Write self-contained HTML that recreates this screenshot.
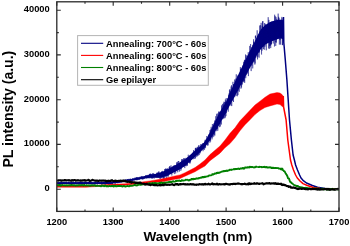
<!DOCTYPE html>
<html><head><meta charset="utf-8"><style>
html,body{margin:0;padding:0;background:#fff;width:350px;height:246px;overflow:hidden}
svg{display:block}
svg{will-change:transform}
</style></head><body>
<svg width="350" height="246" viewBox="0 0 350 246">
<rect width="350" height="246" fill="#fff"/>
<defs><clipPath id="c"><rect x="56.8" y="1.8" width="282.2" height="209.6"/></clipPath></defs>
<g clip-path="url(#c)">
<polygon points="57.0,182.2 100.0,182.2 110.0,181.8 120.0,180.6 128.0,179.5 135.0,178.3 140.0,177.3 150.0,174.8 155.0,174.0 160.0,172.4 165.0,170.8 170.0,167.9 175.0,165.4 180.0,162.3 185.0,159.6 190.0,155.1 195.0,150.5 200.0,146.4 205.0,141.5 209.5,132.9 210.8,130.4 215.7,119.8 217.1,117.3 221.0,109.9 225.4,102.9 226.1,101.8 232.4,87.2 234.0,83.8 239.3,72.5 242.2,66.6 246.5,57.8 250.0,50.8 250.3,50.2 254.1,42.9 257.0,36.6 258.2,34.3 260.0,31.1 261.0,29.3 262.0,28.2 265.0,25.2 270.0,21.9 275.0,20.5 278.0,19.8 280.0,19.7 281.0,19.7 283.2,20.2 283.2,39.2 281.0,38.6 280.0,38.4 278.0,39.0 275.0,40.0 270.0,41.9 265.0,44.8 262.0,47.8 261.0,49.0 260.0,50.3 258.2,52.9 257.0,55.0 254.1,60.4 250.3,67.2 250.0,67.7 246.5,74.3 242.2,82.4 239.3,87.8 234.0,97.7 232.4,100.6 226.1,112.5 225.4,113.7 221.0,121.5 217.1,128.6 215.7,130.8 210.8,138.7 209.5,140.7 205.0,147.3 200.0,152.3 195.0,156.8 190.0,161.5 185.0,165.9 180.0,169.2 175.0,171.7 170.0,174.4 165.0,176.6 160.0,177.4 155.0,177.7 150.0,177.7 140.0,179.2 135.0,180.3 128.0,181.1 120.0,182.4 110.0,184.0 100.0,184.0 57.0,184.1" fill="#000080"/>
<polyline points="57.00,183.4 57.12,183.9 57.24,183.4 57.36,182.0 57.48,183.9 57.60,183.5 57.72,182.7 57.84,183.7 57.96,183.5 58.08,183.4 58.20,183.2 58.32,183.6 58.44,182.5 58.56,183.0 58.68,182.7 58.80,183.7 58.92,183.2 59.04,182.9 59.16,182.5 59.28,182.9 59.40,183.2 59.52,182.9 59.64,184.3 59.76,184.0 59.88,181.6 60.00,181.6 60.12,183.0 60.24,182.8 60.36,183.3 60.48,183.3 60.60,184.7 60.72,182.2 60.84,182.8 60.96,184.7 61.08,183.7 61.20,183.7 61.32,182.7 61.44,181.7 61.56,183.3 61.68,183.2 61.80,182.1 61.92,182.6 62.04,183.1 62.16,182.3 62.28,183.1 62.40,183.2 62.52,183.2 62.64,182.7 62.76,183.7 62.88,183.9 63.00,183.4 63.12,182.4 63.24,183.8 63.36,182.7 63.48,183.9 63.60,182.2 63.72,183.9 63.84,183.1 63.96,182.1 64.08,182.9 64.20,183.2 64.32,183.4 64.44,182.3 64.56,182.2 64.68,183.3 64.80,182.7 64.92,183.3 65.04,183.8 65.16,181.7 65.28,183.4 65.40,184.2 65.52,182.9 65.64,182.4 65.76,183.8 65.88,183.4 66.00,183.9 66.12,182.8 66.24,181.9 66.36,183.0 66.48,182.8 66.60,183.8 66.72,183.3 66.84,181.7 66.96,182.1 67.08,183.9 67.20,183.7 67.32,182.6 67.44,183.1 67.56,183.5 67.68,183.5 67.80,183.9 67.92,183.4 68.04,183.1 68.16,182.9 68.28,184.0 68.40,181.6 68.52,183.0 68.64,183.2 68.76,181.9 68.88,183.4 69.00,182.6 69.12,183.9 69.24,183.0 69.36,183.7 69.48,184.2 69.60,183.5 69.72,182.4 69.84,181.8 69.96,184.6 70.08,183.0 70.20,182.5 70.32,183.3 70.44,183.0 70.56,183.9 70.68,183.2 70.80,183.1 70.92,182.5 71.04,183.5 71.16,182.2 71.28,183.7 71.40,184.4 71.52,181.8 71.64,181.6 71.76,183.7 71.88,184.7 72.00,182.3 72.12,182.1 72.24,183.6 72.36,182.4 72.48,182.7 72.60,182.8 72.72,183.6 72.84,182.8 72.96,183.4 73.08,183.0 73.20,182.4 73.32,182.9 73.44,182.3 73.56,183.1 73.68,182.2 73.80,182.2 73.92,184.4 74.04,183.1 74.16,183.1 74.28,183.6 74.40,182.8 74.52,182.9 74.64,183.5 74.76,183.4 74.88,182.1 75.00,183.8 75.12,182.6 75.24,182.2 75.36,182.4 75.48,182.8 75.60,184.5 75.72,182.1 75.84,183.3 75.96,181.6 76.08,183.1 76.20,183.9 76.32,182.9 76.44,182.6 76.56,183.3 76.68,183.7 76.80,183.7 76.92,184.6 77.04,183.3 77.16,182.6 77.28,183.0 77.40,183.1 77.52,183.2 77.64,183.1 77.76,183.3 77.88,181.7 78.00,183.8 78.12,182.6 78.24,182.1 78.36,183.7 78.48,184.3 78.60,183.6 78.72,183.3 78.84,182.3 78.96,184.6 79.08,183.9 79.20,182.2 79.32,182.5 79.44,183.2 79.56,181.8 79.68,183.3 79.80,182.7 79.92,184.2 80.04,183.9 80.16,181.6 80.28,183.2 80.40,181.7 80.52,184.1 80.64,183.3 80.76,183.6 80.88,182.2 81.00,184.6 81.12,184.6 81.24,182.2 81.36,183.4 81.48,182.6 81.60,183.1 81.72,182.0 81.84,184.6 81.96,182.3 82.08,182.9 82.20,183.6 82.32,182.6 82.44,182.9 82.56,182.6 82.68,183.0 82.80,182.1 82.92,182.8 83.04,182.9 83.16,182.8 83.28,183.2 83.40,182.9 83.52,183.8 83.64,182.8 83.76,183.0 83.88,182.6 84.00,182.7 84.12,182.0 84.24,183.6 84.36,182.2 84.48,182.5 84.60,183.4 84.72,183.5 84.84,182.8 84.96,181.6 85.08,183.5 85.20,183.3 85.32,181.9 85.44,183.8 85.56,182.5 85.68,182.2 85.80,183.2 85.92,183.0 86.04,183.3 86.16,181.8 86.28,184.6 86.40,182.6 86.52,181.8 86.64,183.6 86.76,182.8 86.88,183.4 87.00,182.8 87.12,183.1 87.24,183.3 87.36,182.5 87.48,183.7 87.60,182.7 87.72,182.4 87.84,183.2 87.96,183.5 88.08,182.9 88.20,182.4 88.32,183.6 88.44,181.6 88.56,182.2 88.68,183.2 88.80,182.0 88.92,183.1 89.04,183.1 89.16,183.9 89.28,182.3 89.40,182.6 89.52,183.4 89.64,181.6 89.76,184.6 89.88,182.5 90.00,182.5 90.12,183.8 90.24,183.1 90.36,181.6 90.48,183.6 90.60,183.8 90.72,182.7 90.84,182.9 90.96,183.5 91.08,182.3 91.20,183.5 91.32,183.3 91.44,182.5 91.56,181.9 91.68,182.9 91.80,182.4 91.92,184.0 92.04,183.2 92.16,183.8 92.28,183.2 92.40,183.3 92.52,182.5 92.64,183.7 92.76,184.6 92.88,182.9 93.00,182.6 93.12,183.0 93.24,182.7 93.36,182.5 93.48,183.2 93.60,182.9 93.72,184.3 93.84,183.1 93.96,183.4 94.08,183.9 94.20,182.9 94.32,184.3 94.44,182.6 94.56,182.4 94.68,182.8 94.80,183.0 94.92,181.9 95.04,183.1 95.16,181.7 95.28,184.3 95.40,183.0 95.52,182.6 95.64,182.3 95.76,182.8 95.88,182.9 96.00,182.2 96.12,182.3 96.24,183.0 96.36,182.7 96.48,183.9 96.60,184.1 96.72,183.1 96.84,183.5 96.96,182.0 97.08,183.6 97.20,183.1 97.32,183.5 97.44,184.5 97.56,181.6 97.68,183.3 97.80,182.2 97.92,183.6 98.04,182.0 98.16,182.7 98.28,183.3 98.40,183.6 98.52,183.2 98.64,182.4 98.76,182.6 98.88,183.9 99.00,183.1 99.12,181.7 99.24,183.8 99.36,183.5 99.48,183.8 99.60,182.8 99.72,183.8 99.84,182.2 99.96,183.6 100.08,182.7 100.20,183.7 100.32,184.0 100.44,182.5 100.56,183.1 100.68,183.1 100.80,184.1 100.92,183.7 101.04,182.0 101.16,183.5 101.28,183.7 101.40,184.6 101.52,181.6 101.64,182.6 101.76,184.2 101.88,181.9 102.00,182.0 102.12,183.5 102.24,183.9 102.36,182.5 102.48,183.5 102.60,183.2 102.72,184.4 102.84,183.0 102.96,183.9 103.08,182.2 103.20,182.9 103.32,183.0 103.44,184.0 103.56,183.5 103.68,182.4 103.80,183.6 103.92,183.7 104.04,182.9 104.16,182.8 104.28,182.8 104.40,181.5 104.52,183.2 104.64,183.2 104.76,182.2 104.88,183.7 105.00,181.8 105.12,182.5 105.24,182.6 105.36,184.6 105.48,181.5 105.60,183.5 105.72,183.9 105.84,183.3 105.96,184.1 106.08,182.1 106.20,181.3 106.32,183.7 106.44,181.9 106.56,182.7 106.68,181.9 106.80,183.9 106.92,183.8 107.04,182.3 107.16,183.8 107.28,183.1 107.40,182.8 107.52,183.0 107.64,182.8 107.76,183.5 107.88,183.2 108.00,182.6 108.12,183.9 108.24,182.4 108.36,183.2 108.48,183.3 108.60,184.3 108.72,182.4 108.84,184.6 108.96,183.1 109.08,182.7 109.20,182.3 109.32,183.5 109.44,183.0 109.56,181.8 109.68,181.8 109.80,182.4 109.92,182.2 110.04,184.0 110.16,184.2 110.28,183.7 110.40,183.2 110.52,182.4 110.64,182.9 110.76,183.6 110.88,184.5 111.00,183.6 111.12,182.5 111.24,182.8 111.36,182.2 111.48,181.9 111.60,182.5 111.72,182.8 111.84,184.3 111.96,182.7 112.08,183.9 112.20,184.3 112.32,182.6 112.44,184.1 112.56,183.2 112.68,182.1 112.80,182.8 112.92,182.5 113.04,182.3 113.16,182.3 113.28,182.6 113.40,182.8 113.52,181.6 113.64,182.4 113.76,181.0 113.88,182.6 114.00,182.9 114.12,182.5 114.24,182.6 114.36,182.8 114.48,181.7 114.60,182.0 114.72,182.7 114.84,183.1 114.96,182.6 115.08,183.8 115.20,182.1 115.32,183.0 115.44,183.3 115.56,182.0 115.68,181.4 115.80,181.0 115.92,182.2 116.04,183.0 116.16,182.3 116.28,182.2 116.40,181.7 116.52,182.5 116.64,180.4 116.76,182.2 116.88,182.0 117.00,180.7 117.12,183.4 117.24,180.7 117.36,180.9 117.48,180.8 117.60,182.8 117.72,181.0 117.84,182.4 117.96,182.3 118.08,182.0 118.20,180.6 118.32,181.2 118.44,183.1 118.56,180.6 118.68,181.0 118.80,181.5 118.92,182.3 119.04,181.8 119.16,182.2 119.28,180.7 119.40,182.4 119.52,182.0 119.64,180.2 119.76,182.8 119.88,183.0 120.00,180.9 120.12,181.5 120.24,182.6 120.36,180.2 120.48,180.0 120.60,180.3 120.72,180.9 120.84,180.9 120.96,181.9 121.08,181.6 121.20,180.3 121.32,181.8 121.44,182.7 121.56,182.2 121.68,182.1 121.80,181.2 121.92,182.0 122.04,180.4 122.16,181.8 122.28,181.1 122.40,182.1 122.52,181.5 122.64,180.2 122.76,181.2 122.88,182.0 123.00,180.1 123.12,180.6 123.24,180.4 123.36,179.8 123.48,181.7 123.60,182.0 123.72,181.6 123.84,181.1 123.96,180.9 124.08,181.1 124.20,180.3 124.32,181.6 124.44,181.7 124.56,181.6 124.68,180.4 124.80,180.8 124.92,180.6 125.04,182.1 125.16,180.9 125.28,179.3 125.40,181.0 125.52,182.1 125.64,181.2 125.76,181.3 125.88,180.6 126.00,179.2 126.12,179.2 126.24,179.6 126.36,180.4 126.48,180.8 126.60,181.0 126.72,180.2 126.84,181.2 126.96,180.2 127.08,179.9 127.20,181.1 127.32,179.7 127.44,179.0 127.56,179.6 127.68,180.4 127.80,179.0 127.92,180.0 128.04,180.0 128.16,179.2 128.28,179.1 128.40,179.9 128.52,179.8 128.64,181.2 128.76,180.5 128.88,178.9 129.00,179.5 129.12,180.7 129.24,181.5 129.36,180.4 129.48,180.3 129.60,181.5 129.72,180.0 129.84,179.8 129.96,178.9 130.08,179.6 130.20,181.4 130.32,178.8 130.44,179.9 130.56,178.8 130.68,180.0 130.80,180.6 130.92,179.7 131.04,180.5 131.16,180.4 131.28,180.2 131.40,181.2 131.52,180.4 131.64,179.5 131.76,179.2 131.88,179.0 132.00,180.1 132.12,179.4 132.24,181.2 132.36,181.2 132.48,179.4 132.60,179.3 132.72,181.1 132.84,178.0 132.96,179.2 133.08,180.4 133.20,178.7 133.32,179.1 133.44,179.2 133.56,180.1 133.68,179.6 133.80,179.8 133.92,180.0 134.04,179.4 134.16,180.4 134.28,178.7 134.40,178.0 134.52,177.7 134.64,177.8 134.76,178.8 134.88,180.2 135.00,179.4 135.12,178.7 135.24,178.2 135.36,178.7 135.48,178.8 135.60,178.6 135.72,177.8 135.84,178.7 135.96,180.0 136.08,177.4 136.20,178.8 136.32,177.4 136.44,179.1 136.56,178.3 136.68,177.3 136.80,179.0 136.92,180.5 137.04,178.9 137.16,179.9 137.28,178.7 137.40,177.2 137.52,179.2 137.64,178.4 137.76,177.4 137.88,179.4 138.00,178.9 138.12,178.2 138.24,179.4 138.36,177.8 138.48,179.1 138.60,177.7 138.72,179.0 138.84,177.5 138.96,179.8 139.08,178.7 139.20,179.7 139.32,177.7 139.44,177.9 139.56,179.1 139.68,176.8 139.80,177.4 139.92,179.2 140.04,178.6 140.16,179.1 140.28,177.9 140.40,178.7 140.52,177.5 140.64,176.9 140.76,176.6 140.88,177.6 141.00,177.5 141.12,177.4 141.24,176.4 141.36,176.3 141.48,177.5 141.60,178.2 141.72,177.4 141.84,177.0 141.96,176.1 142.08,179.6 142.20,176.7 142.32,179.4 142.44,179.3 142.56,178.0 142.68,177.1 142.80,177.8 142.92,176.5 143.04,177.9 143.16,177.6 143.28,178.1 143.40,178.6 143.52,179.3 143.64,177.1 143.76,178.6 143.88,176.6 144.00,176.5 144.12,176.8 144.24,176.3 144.36,178.4 144.48,178.4 144.60,178.7 144.72,177.3 144.84,177.6 144.96,176.6 145.08,176.0 145.20,177.7 145.32,177.5 145.44,175.9 145.56,177.8 145.68,175.1 145.80,176.9 145.92,176.3 146.04,176.4 146.16,175.8 146.28,178.1 146.40,177.6 146.52,178.3 146.64,177.1 146.76,175.3 146.88,176.4 147.00,175.4 147.12,177.4 147.24,178.3 147.36,177.2 147.48,176.0 147.60,176.3 147.72,176.9 147.84,174.9 147.96,176.8 148.08,176.9 148.20,175.9 148.32,176.0 148.44,176.8 148.56,175.5 148.68,175.4 148.80,177.5 148.92,176.7 149.04,178.6 149.16,175.1 149.28,174.1 149.40,177.6 149.52,177.6 149.64,175.3 149.76,174.3 149.88,176.2 150.00,173.8 150.12,175.7 150.24,173.8 150.36,175.9 150.48,173.8 150.60,175.8 150.72,178.3 150.84,175.8 150.96,177.2 151.08,175.2 151.20,174.8 151.32,173.9 151.44,177.6 151.56,176.0 151.68,178.4 151.80,174.3 151.92,175.7 152.04,176.1 152.16,178.1 152.28,178.8 152.40,175.0 152.52,174.2 152.64,173.3 152.76,178.0 152.88,175.8 153.00,174.9 153.12,175.8 153.24,173.2 153.36,173.2 153.48,177.4 153.60,176.5 153.72,176.1 153.84,174.2 153.96,176.8 154.08,178.7 154.20,173.8 154.32,175.8 154.44,175.1 154.56,176.4 154.68,175.8 154.80,175.5 154.92,174.3 155.04,175.7 155.16,174.7 155.28,175.4 155.40,175.6 155.52,176.8 155.64,174.6 155.76,175.0 155.88,177.5 156.00,175.2 156.12,175.1 156.24,177.1 156.36,176.0 156.48,175.6 156.60,175.9 156.72,173.1 156.84,176.3 156.96,177.9 157.08,176.5 157.20,172.3 157.32,175.9 157.44,173.5 157.56,174.8 157.68,175.5 157.80,172.8 157.92,177.9 158.04,175.0 158.16,176.8 158.28,176.5 158.40,177.9 158.52,177.6 158.64,171.9 158.76,175.1 158.88,171.3 159.00,174.0 159.12,176.6 159.24,177.0 159.36,177.8 159.48,174.1 159.60,175.6 159.72,175.1 159.84,177.7 159.96,178.5 160.08,174.0 160.20,178.9 160.32,174.7 160.44,173.9 160.56,176.1 160.68,176.4 160.80,175.9 160.92,173.1 161.04,178.1 161.16,174.7 161.28,178.2 161.40,177.9 161.52,171.4 161.64,172.1 161.76,172.0 161.88,175.0 162.00,174.5 162.12,175.0 162.24,172.3 162.36,175.3 162.48,177.8 162.60,170.9 162.72,173.7 162.84,174.8 162.96,173.8 163.08,173.6 163.20,178.6 163.32,177.4 163.44,176.2 163.56,172.0 163.68,178.6 163.80,174.9 163.92,172.4 164.04,173.0 164.16,172.6 164.28,178.6 164.40,174.4 164.52,173.9 164.64,169.0 164.76,175.7 164.88,170.8 165.00,170.6 165.12,175.3 165.24,171.2 165.36,175.8 165.48,176.5 165.60,168.5 165.72,172.9 165.84,168.9 165.96,173.0 166.08,175.6 166.20,169.3 166.32,178.0 166.44,172.1 166.56,169.5 166.68,172.5 166.80,175.0 166.92,168.8 167.04,172.6 167.16,168.6 167.28,175.9 167.40,172.9 167.52,171.1 167.64,175.3 167.76,168.5 167.88,171.0 168.00,177.3 168.12,171.7 168.24,175.9 168.36,172.5 168.48,169.8 168.60,171.1 168.72,172.0 168.84,170.5 168.96,169.2 169.08,169.2 169.20,167.1 169.32,171.8 169.44,172.5 169.56,173.6 169.68,166.0 169.80,173.6 169.92,171.1 170.04,166.7 170.16,171.3 170.28,173.4 170.40,172.5 170.52,173.0 170.64,173.6 170.76,173.4 170.88,170.5 171.00,165.3 171.12,168.2 171.24,171.5 171.36,169.0 171.48,172.4 171.60,172.6 171.72,170.3 171.84,175.5 171.96,167.2 172.08,172.8 172.20,168.5 172.32,167.6 172.44,171.6 172.56,167.9 172.68,172.3 172.80,166.2 172.92,169.7 173.04,167.0 173.16,168.7 173.28,168.3 173.40,166.0 173.52,171.2 173.64,165.5 173.76,166.2 173.88,171.7 174.00,171.9 174.12,170.9 174.24,169.9 174.36,174.1 174.48,165.2 174.60,166.5 174.72,165.7 174.84,171.2 174.96,169.4 175.08,171.7 175.20,171.3 175.32,167.7 175.44,165.8 175.56,165.2 175.68,173.5 175.80,170.9 175.92,169.8 176.04,166.9 176.16,167.3 176.28,166.8 176.40,166.7 176.52,162.4 176.64,167.4 176.76,166.4 176.88,168.3 177.00,168.0 177.12,169.9 177.24,167.2 177.36,169.6 177.48,161.7 177.60,163.7 177.72,172.3 177.84,163.2 177.96,166.0 178.08,169.0 178.20,164.0 178.32,168.9 178.44,162.2 178.56,161.1 178.68,162.3 178.80,161.2 178.92,166.3 179.04,165.3 179.16,167.2 179.28,162.9 179.40,171.6 179.52,165.7 179.64,165.8 179.76,167.3 179.88,165.0 180.00,163.7 180.12,165.9 180.24,168.5 180.36,167.6 180.48,168.4 180.60,163.6 180.72,162.9 180.84,170.8 180.96,164.4 181.08,166.6 181.20,167.3 181.32,169.3 181.44,160.7 181.56,163.3 181.68,163.4 181.80,163.7 181.92,159.1 182.04,164.2 182.16,159.0 182.28,165.3 182.40,165.9 182.52,166.0 182.64,160.5 182.76,167.0 182.88,161.4 183.00,160.2 183.12,160.9 183.24,161.2 183.36,164.2 183.48,166.1 183.60,158.3 183.72,161.9 183.84,166.1 183.96,164.0 184.08,164.8 184.20,158.7 184.32,166.0 184.44,158.4 184.56,163.6 184.68,167.0 184.80,168.1 184.92,164.3 185.04,165.3 185.16,160.8 185.28,161.1 185.40,165.8 185.52,162.3 185.64,161.8 185.76,157.9 185.88,162.4 186.00,163.8 186.12,159.4 186.24,160.1 186.36,166.2 186.48,162.0 186.60,160.5 186.72,157.9 186.84,159.3 186.96,160.3 187.08,165.0 187.20,159.0 187.32,165.9 187.44,157.8 187.56,159.4 187.68,162.9 187.80,159.5 187.92,157.7 188.04,159.7 188.16,161.3 188.28,154.7 188.40,159.0 188.52,159.3 188.64,158.3 188.76,161.6 188.88,157.6 189.00,158.1 189.12,159.2 189.24,161.1 189.36,158.2 189.48,163.3 189.60,155.9 189.72,162.4 189.84,155.9 189.96,157.8 190.08,159.3 190.20,163.4 190.32,160.7 190.44,156.7 190.56,161.6 190.68,157.0 190.80,155.2 190.92,158.8 191.04,157.6 191.16,160.0 191.28,155.5 191.40,158.1 191.52,158.8 191.64,157.6 191.76,156.6 191.88,154.5 192.00,159.1 192.12,156.7 192.24,157.7 192.36,155.0 192.48,156.0 192.60,152.8 192.72,156.0 192.84,157.9 192.96,155.8 193.08,157.9 193.20,156.2 193.32,159.2 193.44,154.5 193.56,150.1 193.68,156.1 193.80,154.2 193.92,151.8 194.04,156.4 194.16,155.2 194.28,155.6 194.40,153.2 194.52,154.6 194.64,154.7 194.76,159.0 194.88,151.7 195.00,153.6 195.12,154.6 195.24,148.4 195.36,148.6 195.48,158.3 195.60,148.0 195.72,154.7 195.84,150.4 195.96,150.6 196.08,147.6 196.20,150.0 196.32,154.7 196.44,148.4 196.56,154.0 196.68,153.1 196.80,157.1 196.92,150.6 197.04,155.5 197.16,154.3 197.28,150.8 197.40,146.8 197.52,155.7 197.64,147.5 197.76,149.9 197.88,153.6 198.00,154.2 198.12,148.6 198.24,150.8 198.36,150.0 198.48,153.9 198.60,155.5 198.72,145.5 198.84,152.9 198.96,145.3 199.08,150.2 199.20,147.0 199.32,154.8 199.44,150.3 199.56,147.7 199.68,148.2 199.80,147.9 199.92,149.9 200.04,148.9 200.16,151.0 200.28,153.3 200.40,150.9 200.52,145.5 200.64,144.3 200.76,146.5 200.88,151.4 201.00,147.4 201.12,146.4 201.24,148.5 201.36,144.1 201.48,144.8 201.60,149.2 201.72,146.8 201.84,146.3 201.96,148.3 202.08,145.7 202.20,145.3 202.32,145.8 202.44,148.6 202.56,147.0 202.68,143.4 202.80,145.8 202.92,148.2 203.04,151.2 203.16,143.1 203.28,147.0 203.40,145.3 203.52,148.1 203.64,147.0 203.76,149.6 203.88,146.9 204.00,143.9 204.12,143.8 204.24,146.3 204.36,146.1 204.48,149.7 204.60,149.3 204.72,141.5 204.84,145.5 204.96,140.8 205.08,139.8 205.20,146.1 205.32,145.4 205.44,140.8 205.56,148.1 205.68,140.5 205.80,139.7 205.92,144.7 206.04,143.3 206.16,142.0 206.28,142.0 206.40,142.7 206.52,141.4 206.64,141.1 206.76,136.0 206.88,137.1 207.00,142.9 207.12,138.6 207.24,142.3 207.36,144.3 207.48,139.1 207.60,140.9 207.72,145.6 207.84,141.9 207.96,145.3 208.08,144.3 208.20,141.5 208.32,138.4 208.44,135.7 208.56,134.6 208.68,139.9 208.80,139.6 208.92,137.2 209.04,140.6 209.16,135.2 209.28,141.1 209.40,137.1 209.52,136.6 209.64,136.5 209.76,136.0 209.88,142.7 210.00,130.0 210.12,136.4 210.24,140.1 210.36,138.0 210.48,133.9 210.60,141.5 210.72,130.6 210.84,129.4 210.96,136.4 211.08,128.3 211.20,126.8 211.32,137.0 211.44,136.4 211.56,136.0 211.68,130.9 211.80,133.4 211.92,128.4 212.04,139.4 212.16,135.3 212.28,134.9 212.40,124.0 212.52,134.7 212.64,137.5 212.76,136.1 212.88,134.0 213.00,130.4 213.12,128.6 213.24,132.6 213.36,131.4 213.48,130.5 213.60,127.9 213.72,136.7 213.84,123.4 213.96,128.5 214.08,125.6 214.20,133.0 214.32,134.7 214.44,133.6 214.56,131.1 214.68,120.5 214.80,135.6 214.92,129.3 215.04,126.0 215.16,126.4 215.28,124.4 215.40,128.0 215.52,127.2 215.64,123.6 215.76,116.2 215.88,124.8 216.00,127.2 216.12,127.3 216.24,123.6 216.36,126.5 216.48,129.3 216.60,121.3 216.72,131.2 216.84,114.1 216.96,116.6 217.08,118.2 217.20,113.4 217.32,117.3 217.44,128.9 217.56,128.6 217.68,122.4 217.80,130.7 217.92,122.7 218.04,118.6 218.16,122.2 218.28,120.0 218.40,124.4 218.52,112.3 218.64,125.4 218.76,117.4 218.88,124.2 219.00,111.2 219.12,117.0 219.24,119.4 219.36,123.6 219.48,112.1 219.60,127.2 219.72,120.7 219.84,115.1 219.96,124.1 220.08,118.0 220.20,123.4 220.32,126.5 220.44,120.9 220.56,113.7 220.68,114.0 220.80,119.2 220.92,117.4 221.04,111.2 221.16,111.9 221.28,118.8 221.40,124.5 221.52,105.4 221.64,118.5 221.76,113.3 221.88,118.4 222.00,118.6 222.12,114.1 222.24,108.3 222.36,106.1 222.48,103.9 222.60,119.4 222.72,111.7 222.84,109.8 222.96,111.0 223.08,105.3 223.20,113.6 223.32,118.6 223.44,117.5 223.56,103.3 223.68,118.2 223.80,107.1 223.92,101.7 224.04,104.3 224.16,105.5 224.28,110.2 224.40,104.7 224.52,102.1 224.64,108.2 224.76,118.3 224.88,105.6 225.00,111.3 225.12,109.2 225.24,117.5 225.36,99.5 225.48,113.6 225.60,101.6 225.72,104.8 225.84,107.1 225.96,116.1 226.08,103.4 226.20,98.1 226.32,113.1 226.44,102.2 226.56,104.9 226.68,105.8 226.80,106.1 226.92,104.5 227.04,106.5 227.16,106.9 227.28,109.1 227.40,102.2 227.52,100.2 227.64,98.3 227.76,106.8 227.88,103.2 228.00,106.1 228.12,105.8 228.24,111.7 228.36,103.5 228.48,106.2 228.60,95.3 228.72,95.7 228.84,99.7 228.96,94.4 229.08,104.7 229.20,93.2 229.32,100.8 229.44,90.2 229.56,93.7 229.68,97.7 229.80,97.9 229.92,89.0 230.04,99.5 230.16,104.2 230.28,102.1 230.40,94.3 230.52,94.4 230.64,90.7 230.76,101.1 230.88,105.6 231.00,93.8 231.12,86.5 231.24,97.6 231.36,100.4 231.48,85.2 231.60,96.5 231.72,106.1 231.84,100.1 231.96,98.2 232.08,97.1 232.20,100.9 232.32,88.3 232.44,88.6 232.56,96.2 232.68,89.1 232.80,94.8 232.92,81.8 233.04,97.4 233.16,97.8 233.28,92.5 233.40,93.0 233.52,102.0 233.64,84.6 233.76,85.4 233.88,84.0 234.00,88.0 234.12,84.0 234.24,90.5 234.36,85.8 234.48,80.4 234.60,79.5 234.72,97.2 234.84,88.6 234.96,87.4 235.08,88.8 235.20,87.8 235.32,93.1 235.44,91.6 235.56,83.7 235.68,81.9 235.80,80.0 235.92,78.6 236.04,96.0 236.16,80.3 236.28,74.3 236.40,80.3 236.52,80.4 236.64,87.7 236.76,79.3 236.88,88.6 237.00,87.4 237.12,93.1 237.24,96.3 237.36,96.1 237.48,93.0 237.60,75.6 237.72,80.5 237.84,84.8 237.96,95.1 238.08,87.3 238.20,90.7 238.32,80.9 238.44,86.0 238.56,86.6 238.68,78.2 238.80,86.6 238.92,88.4 239.04,79.6 239.16,87.6 239.28,91.8 239.40,80.4 239.52,79.7 239.64,77.3 239.76,74.9 239.88,80.1 240.00,75.9 240.12,76.3 240.24,72.8 240.36,67.1 240.48,71.1 240.60,80.0 240.72,68.9 240.84,72.5 240.96,88.7 241.08,84.8 241.20,71.4 241.32,80.6 241.44,71.3 241.56,87.5 241.68,71.2 241.80,75.9 241.92,85.1 242.04,68.8 242.16,84.1 242.28,68.3 242.40,75.8 242.52,71.7 242.64,73.0 242.76,74.6 242.88,72.6 243.00,65.4 243.12,79.1 243.24,77.8 243.36,81.7 243.48,82.2 243.60,61.8 243.72,81.0 243.84,80.9 243.96,67.1 244.08,78.5 244.20,81.5 244.32,66.3 244.44,59.8 244.56,67.1 244.68,82.9 244.80,71.1 244.92,60.0 245.04,67.0 245.16,61.2 245.28,65.4 245.40,68.9 245.52,54.5 245.64,70.4 245.76,78.2 245.88,65.7 246.00,64.1 246.12,75.1 246.24,56.9 246.36,56.8 246.48,55.4 246.60,64.6 246.72,68.6 246.84,64.7 246.96,69.4 247.08,71.3 247.20,68.5 247.32,58.2 247.44,62.1 247.56,73.6 247.68,55.7 247.80,61.6 247.92,60.1 248.04,61.7 248.16,54.5 248.28,52.1 248.40,76.1 248.52,69.5 248.64,56.4 248.76,61.2 248.88,66.7 249.00,58.5 249.12,65.8 249.24,55.9 249.36,57.7 249.48,59.6 249.60,56.5 249.72,45.9 249.84,59.8 249.96,61.4 250.08,62.9 250.20,51.1 250.32,61.4 250.44,60.1 250.56,44.3 250.68,44.0 250.80,61.5 250.92,50.0 251.04,65.2 251.16,71.1 251.28,52.3 251.40,51.2 251.52,56.3 251.64,61.6 251.76,47.0 251.88,65.7 252.00,63.4 252.12,60.6 252.24,50.8 252.36,62.2 252.48,61.5 252.60,44.8 252.72,68.4 252.84,51.6 252.96,56.7 253.08,49.3 253.20,56.4 253.32,62.4 253.44,46.4 253.56,39.3 253.68,48.8 253.80,41.7 253.92,45.8 254.04,50.7 254.16,51.0 254.28,61.7 254.40,42.8 254.52,53.7 254.64,46.4 254.76,61.5 254.88,64.6 255.00,52.3 255.12,63.4 255.24,45.0 255.36,35.9 255.48,38.3 255.60,35.5 255.72,40.4 255.84,46.1 255.96,57.5 256.08,53.5 256.20,51.3 256.32,43.6 256.44,40.8 256.56,47.0 256.68,47.6 256.80,48.4 256.92,49.1 257.04,44.7 257.16,30.3 257.28,35.8 257.40,38.0 257.52,59.4 257.64,41.0 257.76,50.2 257.88,56.8 258.00,46.9 258.12,40.4 258.24,41.0 258.36,34.6 258.48,45.8 258.60,52.7 258.72,47.7 258.84,49.3 258.96,48.6 259.08,57.7 259.20,36.4 259.32,43.2 259.44,47.8 259.56,52.4 259.68,25.5 259.80,36.4 259.92,39.0 260.04,31.5 260.16,48.0 260.28,42.2 260.40,36.5 260.52,25.2 260.64,27.7 260.76,30.6 260.88,43.4 261.00,28.0 261.12,22.8 261.24,25.6 261.36,33.3 261.48,53.8 261.60,54.5 261.72,34.0 261.84,46.7 261.96,50.7 262.08,49.5 262.20,36.7 262.32,25.9 262.44,33.2 262.56,21.4 262.68,39.5 262.80,44.2 262.92,21.1 263.04,36.5 263.16,39.5 263.28,48.0 263.40,49.0 263.52,43.7 263.64,30.2 263.76,32.9 263.88,47.0 264.00,30.5 264.12,35.5 264.24,49.8 264.36,36.8 264.48,23.1 264.60,32.7 264.72,41.1 264.84,33.4 264.96,45.5 265.08,46.5 265.20,29.0 265.32,30.2 265.44,33.8 265.56,23.8 265.68,38.0 265.80,32.9 265.92,41.6 266.04,28.9 266.16,26.3 266.28,50.3 266.40,26.1 266.52,28.7 266.64,27.3 266.76,31.1 266.88,25.5 267.00,33.3 267.12,27.2 267.24,29.8 267.36,36.9 267.48,39.9 267.60,37.7 267.72,26.6 267.84,36.9 267.96,32.1 268.08,32.1 268.20,17.2 268.32,39.1 268.44,31.6 268.56,48.5 268.68,38.6 268.80,22.3 268.92,19.9 269.04,43.1 269.16,24.3 269.28,38.7 269.40,29.5 269.52,48.7 269.64,32.9 269.76,46.1 269.88,44.4 270.00,27.6 270.12,28.8 270.24,45.7 270.36,31.8 270.48,23.8 270.60,42.9 270.72,48.1 270.84,31.4 270.96,44.7 271.08,30.3 271.20,44.3 271.32,29.5 271.44,44.0 271.56,36.7 271.68,30.0 271.80,33.8 271.92,26.7 272.04,21.3 272.16,21.9 272.28,31.1 272.40,21.9 272.52,35.6 272.64,36.4 272.76,35.8 272.88,27.0 273.00,32.0 273.12,31.2 273.24,43.5 273.36,24.0 273.48,27.9 273.60,29.2 273.72,30.0 273.84,24.5 273.96,25.5 274.08,40.4 274.20,25.4 274.32,39.4 274.44,46.5 274.56,42.6 274.68,14.7 274.80,37.9 274.92,35.2 275.04,35.8 275.16,16.2 275.28,37.6 275.40,21.0 275.52,42.3 275.64,40.3 275.76,45.9 275.88,27.1 276.00,16.9 276.12,39.9 276.24,38.3 276.36,27.0 276.48,42.6 276.60,36.5 276.72,18.8 276.84,27.1 276.96,26.3 277.08,29.2 277.20,31.9 277.32,23.9 277.44,28.3 277.56,35.3 277.68,29.4 277.80,27.6 277.92,27.2 278.04,29.0 278.16,13.6 278.28,31.3 278.40,20.8 278.52,30.8 278.64,16.8 278.76,37.9 278.88,31.9 279.00,17.9 279.12,31.8 279.24,23.1 279.36,44.6 279.48,33.9 279.60,22.7 279.72,31.6 279.84,29.3 279.96,40.0 280.08,32.7 280.20,34.1 280.32,19.9 280.44,36.6 280.56,44.6 280.68,35.3 280.80,29.4 280.92,31.2 281.04,21.4 281.16,31.4 281.28,20.2 281.40,30.2 281.52,26.5 281.64,22.6 281.76,35.0 281.88,16.9 282.00,29.7 282.12,18.4 282.24,45.0 282.36,45.1 282.48,37.6 282.60,45.1 282.72,35.4 282.84,35.0 282.96,26.5 283.08,22.4 283.20,31.4 283.32,25.6" fill="none" stroke="#000080" stroke-width="0.45" stroke-linejoin="bevel"/>
<polyline points="283.5,17.0 283.8,42.5 285.3,60.0 286.9,80.0 289.5,120.0 291.4,140.0 293.1,155.0 294.4,160.0 295.6,165.0 297.5,170.0 299.6,175.0 301.0,178.0 303.0,180.3 306.5,183.0 312.4,185.5 317.5,187.3 325.0,188.6 339.0,189.0" fill="none" stroke="#000080" stroke-width="1.5" stroke-linejoin="round"/>
<polygon points="57.0,186.1 86.0,186.1 110.0,184.3 125.0,183.8 140.0,182.2 150.0,180.9 160.0,179.3 165.0,178.3 175.0,175.9 180.0,174.9 185.0,172.7 195.0,167.6 200.0,164.0 205.0,160.0 210.0,154.6 220.0,146.0 225.0,140.0 230.0,133.3 235.0,127.8 240.0,120.8 245.0,115.6 250.0,110.2 255.0,105.0 260.0,101.2 265.0,97.3 270.0,94.0 277.0,92.6 280.0,93.0 282.0,94.5 283.2,96.0 283.2,107.0 282.0,106.3 280.0,104.5 277.0,104.1 270.0,105.9 265.0,107.5 260.0,110.5 255.0,114.5 250.0,119.8 245.0,124.8 240.0,130.8 235.0,137.8 230.0,143.6 225.0,147.8 220.0,153.2 210.0,160.7 205.0,166.0 200.0,168.8 195.0,171.8 185.0,176.2 180.0,178.5 175.0,179.3 165.0,181.3 160.0,181.9 150.0,182.8 140.0,183.8 125.0,185.3 110.0,185.6 86.0,187.3 57.0,187.3" fill="#ff0000" stroke="#ff0000" stroke-width="0.4" stroke-linejoin="round"/>
<polyline points="283.3,96.0 283.6,107.0 286.1,120.0 287.8,140.0 290.5,160.0 291.8,165.0 293.5,170.0 295.6,175.0 297.3,178.0 300.0,181.0 303.0,183.6 307.3,185.5 313.5,187.5 320.0,188.6 339.0,189.0" fill="none" stroke="#ff0000" stroke-width="1.5" stroke-linejoin="round"/>
<polyline points="57.00,186.01 57.40,184.41 57.80,185.45 58.20,185.11 58.60,185.15 59.00,185.23 59.40,184.60 59.80,185.23 60.20,185.01 60.60,186.48 61.00,185.39 61.40,185.19 61.80,185.22 62.20,185.08 62.60,184.95 63.00,185.18 63.40,185.49 63.80,185.24 64.20,185.66 64.60,185.26 65.00,185.34 65.40,185.87 65.80,185.52 66.20,185.15 66.60,185.27 67.00,185.52 67.40,186.01 67.80,185.24 68.20,185.25 68.60,185.69 69.00,185.03 69.40,185.24 69.80,185.65 70.20,185.55 70.60,185.38 71.00,185.58 71.40,184.36 71.80,185.71 72.20,185.02 72.60,184.77 73.00,185.45 73.40,185.60 73.80,185.20 74.20,184.98 74.60,185.37 75.00,185.34 75.40,185.86 75.80,185.63 76.20,185.43 76.60,185.76 77.00,185.30 77.40,185.05 77.80,185.58 78.20,185.58 78.60,185.30 79.00,185.10 79.40,185.46 79.80,184.51 80.20,185.62 80.60,185.55 81.00,184.81 81.40,185.41 81.80,185.05 82.20,185.65 82.60,184.68 83.00,185.07 83.40,185.64 83.80,185.80 84.20,184.64 84.60,185.22 85.00,185.51 85.40,185.18 85.80,185.96 86.20,184.99 86.60,185.54 87.00,185.06 87.40,185.93 87.80,185.44 88.20,185.32 88.60,184.86 89.00,186.06 89.40,185.75 89.80,185.76 90.20,185.90 90.60,185.64 91.00,185.30 91.40,185.25 91.80,185.26 92.20,186.03 92.60,185.05 93.00,185.37 93.40,185.47 93.80,185.67 94.20,185.81 94.60,185.18 95.00,185.02 95.40,185.63 95.80,186.07 96.20,185.92 96.60,185.74 97.00,185.56 97.40,185.79 97.80,185.61 98.20,185.99 98.60,185.44 99.00,185.77 99.40,185.70 99.80,185.94 100.20,185.83 100.60,186.66 101.00,186.30 101.40,186.31 101.80,185.08 102.20,185.69 102.60,185.60 103.00,186.01 103.40,185.04 103.80,186.26 104.20,186.23 104.60,185.41 105.00,185.53 105.40,185.60 105.80,185.91 106.20,186.13 106.60,186.63 107.00,185.86 107.40,186.20 107.80,186.00 108.20,186.57 108.60,186.22 109.00,186.45 109.40,185.61 109.80,185.93 110.20,185.72 110.60,186.53 111.00,186.24 111.40,185.91 111.80,185.87 112.20,186.20 112.60,185.79 113.00,185.71 113.40,186.21 113.80,186.91 114.20,185.97 114.60,185.87 115.00,185.66 115.40,185.60 115.80,186.26 116.20,186.38 116.60,186.09 117.00,186.21 117.40,186.14 117.80,186.15 118.20,185.58 118.60,185.95 119.00,186.16 119.40,185.85 119.80,185.96 120.20,185.85 120.60,186.02 121.00,186.45 121.40,186.01 121.80,186.10 122.20,186.45 122.60,186.39 123.00,186.77 123.40,185.45 123.80,186.48 124.20,186.02 124.60,186.24 125.00,186.49 125.40,186.54 125.80,186.49 126.20,186.15 126.60,186.62 127.00,185.92 127.40,185.93 127.80,186.23 128.20,185.72 128.60,186.63 129.00,186.20 129.40,186.57 129.80,185.76 130.20,185.60 130.60,185.75 131.00,185.92 131.40,185.42 131.80,185.72 132.20,185.55 132.60,186.08 133.00,185.25 133.40,185.81 133.80,185.18 134.20,185.04 134.60,185.09 135.00,184.88 135.40,185.31 135.80,185.58 136.20,185.24 136.60,185.36 137.00,185.67 137.40,185.15 137.80,185.09 138.20,184.88 138.60,184.38 139.00,185.17 139.40,184.25 139.80,185.05 140.20,184.77 140.60,185.12 141.00,184.65 141.40,184.33 141.80,184.69 142.20,184.32 142.60,184.40 143.00,184.42 143.40,184.31 143.80,184.24 144.20,183.96 144.60,184.14 145.00,183.40 145.40,184.04 145.80,183.63 146.20,184.39 146.60,184.39 147.00,183.21 147.40,183.89 147.80,183.74 148.20,183.37 148.60,183.87 149.00,183.47 149.40,182.96 149.80,183.43 150.20,183.44 150.60,183.50 151.00,183.01 151.40,183.63 151.80,183.65 152.20,182.97 152.60,183.11 153.00,183.29 153.40,183.10 153.80,183.88 154.20,183.32 154.60,182.87 155.00,182.92 155.40,183.16 155.80,183.96 156.20,183.07 156.60,183.15 157.00,183.26 157.40,183.04 157.80,183.83 158.20,182.82 158.60,183.24 159.00,183.02 159.40,183.15 159.80,182.50 160.20,183.51 160.60,182.82 161.00,182.85 161.40,182.49 161.80,182.54 162.20,182.97 162.60,183.09 163.00,182.98 163.40,183.12 163.80,182.92 164.20,182.66 164.60,182.92 165.00,182.81 165.40,182.51 165.80,182.75 166.20,182.89 166.60,182.47 167.00,182.22 167.40,182.54 167.80,182.90 168.20,182.11 168.60,182.10 169.00,182.03 169.40,182.46 169.80,181.33 170.20,182.05 170.60,182.29 171.00,181.54 171.40,182.29 171.80,181.90 172.20,181.47 172.60,181.68 173.00,181.02 173.40,181.31 173.80,182.10 174.20,181.09 174.60,182.00 175.00,181.27 175.40,181.61 175.80,181.24 176.20,180.40 176.60,180.94 177.00,181.17 177.40,180.66 177.80,180.55 178.20,181.11 178.60,180.71 179.00,180.31 179.40,180.62 179.80,181.12 180.20,180.61 180.60,181.07 181.00,181.23 181.40,180.67 181.80,180.22 182.20,180.12 182.60,180.53 183.00,180.81 183.40,180.55 183.80,180.61 184.20,180.22 184.60,180.45 185.00,180.14 185.40,180.15 185.80,179.77 186.20,179.63 186.60,179.97 187.00,179.71 187.40,179.72 187.80,180.25 188.20,179.94 188.60,180.96 189.00,180.22 189.40,179.64 189.80,180.09 190.20,179.89 190.60,179.44 191.00,179.99 191.40,179.26 191.80,178.38 192.20,179.65 192.60,179.08 193.00,179.74 193.40,178.92 193.80,178.65 194.20,179.53 194.60,178.53 195.00,178.90 195.40,179.26 195.80,178.72 196.20,178.57 196.60,178.56 197.00,178.74 197.40,178.09 197.80,178.51 198.20,178.42 198.60,178.95 199.00,177.94 199.40,177.66 199.80,178.16 200.20,177.69 200.60,177.85 201.00,177.72 201.40,178.00 201.80,177.29 202.20,177.41 202.60,176.47 203.00,176.98 203.40,177.75 203.80,176.89 204.20,176.81 204.60,176.55 205.00,177.10 205.40,176.83 205.80,176.23 206.20,176.75 206.60,176.47 207.00,176.52 207.40,175.90 207.80,176.60 208.20,176.01 208.60,175.69 209.00,175.42 209.40,175.39 209.80,175.65 210.20,175.12 210.60,175.47 211.00,175.16 211.40,175.30 211.80,174.98 212.20,174.55 212.60,173.77 213.00,174.42 213.40,174.46 213.80,174.11 214.20,174.12 214.60,173.63 215.00,173.53 215.40,173.21 215.80,173.88 216.20,173.33 216.60,172.97 217.00,172.55 217.40,172.83 217.80,173.26 218.20,172.79 218.60,172.25 219.00,172.87 219.40,172.74 219.80,172.46 220.20,172.26 220.60,172.26 221.00,171.91 221.40,171.87 221.80,171.19 222.20,171.89 222.60,171.38 223.00,171.95 223.40,170.46 223.80,171.36 224.20,171.39 224.60,170.86 225.00,171.08 225.40,171.11 225.80,170.99 226.20,170.53 226.60,170.61 227.00,170.95 227.40,170.98 227.80,170.50 228.20,170.43 228.60,170.41 229.00,170.64 229.40,169.84 229.80,169.68 230.20,170.12 230.60,169.63 231.00,169.74 231.40,169.92 231.80,169.99 232.20,169.38 232.60,169.97 233.00,169.01 233.40,169.75 233.80,168.95 234.20,168.99 234.60,169.59 235.00,169.16 235.40,168.96 235.80,169.02 236.20,169.27 236.60,169.03 237.00,168.97 237.40,169.29 237.80,168.60 238.20,168.62 238.60,168.54 239.00,169.07 239.40,168.94 239.80,168.98 240.20,168.46 240.60,168.37 241.00,168.67 241.40,168.18 241.80,168.56 242.20,168.47 242.60,167.92 243.00,168.08 243.40,168.02 243.80,168.61 244.20,168.86 244.60,167.87 245.00,167.85 245.40,167.00 245.80,167.82 246.20,167.69 246.60,167.27 247.00,167.86 247.40,166.99 247.80,167.41 248.20,167.48 248.60,166.94 249.00,167.63 249.40,167.65 249.80,166.74 250.20,166.69 250.60,167.37 251.00,167.12 251.40,166.68 251.80,166.97 252.20,167.01 252.60,166.96 253.00,167.28 253.40,167.09 253.80,167.55 254.20,167.38 254.60,167.11 255.00,167.22 255.40,167.28 255.80,167.03 256.20,166.33 256.60,167.03 257.00,166.73 257.40,167.29 257.80,166.77 258.20,166.94 258.60,166.90 259.00,167.39 259.40,166.88 259.80,166.75 260.20,166.97 260.60,166.73 261.00,166.96 261.40,166.92 261.80,167.04 262.20,167.63 262.60,166.84 263.00,167.01 263.40,166.95 263.80,167.28 264.20,166.65 264.60,166.84 265.00,167.09 265.40,167.32 265.80,167.15 266.20,167.02 266.60,166.92 267.00,167.44 267.40,167.80 267.80,167.44 268.20,167.42 268.60,167.54 269.00,167.09 269.40,167.34 269.80,167.39 270.20,167.62 270.60,167.54 271.00,167.16 271.40,168.01 271.80,168.24 272.20,167.59 272.60,167.86 273.00,167.84 273.40,168.06 273.80,167.30 274.20,168.41 274.60,167.72 275.00,168.36 275.40,167.98 275.80,167.85 276.20,167.98 276.60,168.39 277.00,167.82 277.40,168.04 277.80,168.06 278.20,167.67 278.60,168.78 279.00,168.58 279.40,168.42 279.80,168.88 280.20,168.25 280.60,168.74 281.00,169.54 281.40,169.46 281.80,168.51 282.20,168.30 282.60,169.33 283.00,170.45 283.40,170.30 283.80,170.77 284.20,171.44 284.60,171.31 285.00,172.07 285.40,172.98 285.80,173.56 286.20,174.24 286.60,174.59 287.00,175.68 287.40,176.15 287.80,177.56 288.20,178.80 288.60,178.42 289.00,178.64 289.40,179.97 289.80,180.97 290.20,181.81 290.60,182.30 291.00,182.13 291.40,182.60 291.80,183.64 292.20,183.08 292.60,184.10 293.00,183.91 293.40,184.52 293.80,184.76 294.20,185.05 294.60,185.32 295.00,184.95 295.40,185.54 295.80,185.58 296.20,185.82 296.60,186.28 297.00,185.89 297.40,185.87 297.80,186.00 298.20,186.28 298.60,186.79 299.00,186.37 299.40,187.20 299.80,187.03 300.20,186.96 300.60,186.65 301.00,187.29 301.40,187.52 301.80,186.74 302.20,187.86 302.60,188.10 303.00,187.72 303.40,187.85 303.80,188.60 304.20,188.27 304.60,187.61 305.00,187.99 305.40,187.99 305.80,188.04 306.20,187.32 306.60,188.46 307.00,188.02 307.40,188.35 307.80,188.29 308.20,188.69 308.60,188.33 309.00,188.20 309.40,188.71 309.80,189.07 310.20,188.50 310.60,189.10 311.00,188.73 311.40,188.47 311.80,189.21 312.20,188.40 312.60,189.06 313.00,188.55 313.40,188.89 313.80,188.32 314.20,188.47 314.60,189.16 315.00,188.87 315.40,188.83 315.80,188.68 316.20,189.00 316.60,188.37 317.00,188.49 317.40,188.84 317.80,188.62 318.20,188.68 318.60,188.92 319.00,188.91 319.40,188.90 319.80,189.57 320.20,189.36 320.60,189.44 321.00,189.00 321.40,188.84 321.80,188.51 322.20,188.90 322.60,188.30 323.00,188.83 323.40,189.30 323.80,189.61 324.20,189.38 324.60,188.75 325.00,189.23 325.40,188.78 325.80,189.35 326.20,189.03 326.60,189.37 327.00,189.97 327.40,189.40 327.80,189.90 328.20,189.15 328.60,188.98 329.00,189.56 329.40,189.70 329.80,188.91 330.20,189.13 330.60,188.61 331.00,189.05 331.40,189.43 331.80,189.09 332.20,188.93 332.60,188.64 333.00,189.27 333.40,189.42 333.80,189.35 334.20,189.24 334.60,188.71 335.00,189.77 335.40,189.14 335.80,189.12 336.20,189.43 336.60,188.42 337.00,189.16 337.40,189.14 337.80,189.32 338.20,189.66 338.60,189.36 339.00,188.56" fill="none" stroke="#008000" stroke-width="1.9" stroke-linejoin="bevel"/>
<polyline points="57.00,180.15 57.40,180.33 57.80,181.03 58.20,180.65 58.60,179.78 59.00,180.40 59.40,180.16 59.80,180.46 60.20,179.79 60.60,180.49 61.00,180.49 61.40,181.00 61.80,180.52 62.20,180.59 62.60,179.83 63.00,181.26 63.40,179.67 63.80,180.82 64.20,180.27 64.60,180.07 65.00,180.15 65.40,180.14 65.80,180.54 66.20,180.36 66.60,180.96 67.00,179.70 67.40,180.40 67.80,180.06 68.20,180.69 68.60,179.60 69.00,180.27 69.40,180.48 69.80,179.84 70.20,180.77 70.60,180.47 71.00,180.78 71.40,180.76 71.80,180.03 72.20,180.10 72.60,180.32 73.00,180.68 73.40,180.72 73.80,180.13 74.20,180.17 74.60,180.10 75.00,180.18 75.40,180.31 75.80,180.35 76.20,181.18 76.60,180.21 77.00,180.29 77.40,180.57 77.80,180.04 78.20,180.26 78.60,180.41 79.00,180.69 79.40,179.90 79.80,180.92 80.20,180.27 80.60,180.46 81.00,180.72 81.40,180.65 81.80,180.80 82.20,180.47 82.60,180.39 83.00,180.52 83.40,180.02 83.80,180.86 84.20,180.11 84.60,179.92 85.00,181.18 85.40,180.35 85.80,179.95 86.20,181.11 86.60,180.28 87.00,180.82 87.40,180.10 87.80,180.33 88.20,179.79 88.60,179.71 89.00,180.07 89.40,180.41 89.80,180.75 90.20,181.37 90.60,180.07 91.00,180.85 91.40,180.24 91.80,180.41 92.20,179.91 92.60,179.92 93.00,180.19 93.40,180.04 93.80,180.50 94.20,180.24 94.60,180.98 95.00,180.57 95.40,180.58 95.80,180.95 96.20,180.72 96.60,180.52 97.00,180.50 97.40,180.50 97.80,180.96 98.20,180.85 98.60,180.70 99.00,180.87 99.40,180.36 99.80,180.77 100.20,180.04 100.60,181.09 101.00,180.62 101.40,180.66 101.80,180.83 102.20,180.60 102.60,180.51 103.00,181.06 103.40,180.66 103.80,180.27 104.20,180.79 104.60,179.98 105.00,181.27 105.40,180.58 105.80,180.66 106.20,181.51 106.60,181.48 107.00,180.71 107.40,180.90 107.80,181.09 108.20,181.32 108.60,180.63 109.00,180.74 109.40,181.16 109.80,180.80 110.20,180.99 110.60,180.94 111.00,180.29 111.40,180.40 111.80,179.73 112.20,180.65 112.60,181.26 113.00,180.34 113.40,181.24 113.80,181.16 114.20,180.76 114.60,180.79 115.00,180.83 115.40,180.48 115.80,180.71 116.20,180.81 116.60,181.06 117.00,181.14 117.40,180.57 117.80,181.17 118.20,180.57 118.60,180.81 119.00,181.02 119.40,180.88 119.80,180.85 120.20,181.01 120.60,180.70 121.00,180.67 121.40,180.85 121.80,181.30 122.20,180.91 122.60,181.68 123.00,181.04 123.40,179.84 123.80,180.81 124.20,181.62 124.60,180.99 125.00,180.83 125.40,180.74 125.80,181.65 126.20,181.60 126.60,181.55 127.00,181.53 127.40,181.99 127.80,181.83 128.20,181.13 128.60,181.96 129.00,181.81 129.40,181.78 129.80,182.18 130.20,181.98 130.60,180.93 131.00,182.71 131.40,182.58 131.80,182.22 132.20,182.18 132.60,182.44 133.00,181.90 133.40,182.54 133.80,182.37 134.20,182.36 134.60,182.18 135.00,182.30 135.40,183.02 135.80,183.14 136.20,182.86 136.60,182.69 137.00,182.40 137.40,183.05 137.80,183.42 138.20,182.23 138.60,183.32 139.00,182.09 139.40,182.82 139.80,183.13 140.20,182.52 140.60,182.53 141.00,183.25 141.40,183.59 141.80,183.14 142.20,183.91 142.60,183.17 143.00,184.21 143.40,183.66 143.80,183.77 144.20,183.99 144.60,183.95 145.00,184.60 145.40,184.81 145.80,184.25 146.20,184.05 146.60,183.74 147.00,183.97 147.40,184.34 147.80,184.37 148.20,184.46 148.60,184.55 149.00,184.81 149.40,184.18 149.80,184.37 150.20,185.23 150.60,185.13 151.00,184.62 151.40,185.32 151.80,184.58 152.20,184.75 152.60,184.16 153.00,185.18 153.40,184.86 153.80,185.28 154.20,185.15 154.60,184.93 155.00,184.96 155.40,185.36 155.80,184.86 156.20,184.87 156.60,184.96 157.00,185.25 157.40,185.30 157.80,185.69 158.20,184.94 158.60,185.46 159.00,184.74 159.40,185.23 159.80,185.06 160.20,185.66 160.60,185.21 161.00,184.79 161.40,185.15 161.80,185.04 162.20,184.76 162.60,184.75 163.00,184.48 163.40,185.86 163.80,184.84 164.20,185.14 164.60,184.30 165.00,184.31 165.40,184.65 165.80,184.64 166.20,184.99 166.60,184.29 167.00,184.87 167.40,185.23 167.80,184.30 168.20,184.98 168.60,184.26 169.00,184.74 169.40,184.74 169.80,185.25 170.20,184.32 170.60,184.63 171.00,184.96 171.40,184.10 171.80,184.53 172.20,184.20 172.60,184.25 173.00,184.76 173.40,184.76 173.80,185.46 174.20,185.00 174.60,184.95 175.00,184.39 175.40,184.33 175.80,184.48 176.20,183.56 176.60,185.04 177.00,184.14 177.40,183.98 177.80,184.20 178.20,184.70 178.60,184.83 179.00,184.20 179.40,184.50 179.80,184.30 180.20,183.94 180.60,184.38 181.00,184.33 181.40,183.73 181.80,184.74 182.20,183.72 182.60,184.41 183.00,183.93 183.40,184.02 183.80,184.06 184.20,184.60 184.60,183.86 185.00,184.26 185.40,184.93 185.80,184.07 186.20,184.33 186.60,184.59 187.00,184.12 187.40,184.52 187.80,184.09 188.20,184.61 188.60,184.37 189.00,184.00 189.40,184.89 189.80,184.32 190.20,184.25 190.60,184.01 191.00,184.18 191.40,184.33 191.80,184.43 192.20,184.78 192.60,183.87 193.00,184.24 193.40,184.83 193.80,184.44 194.20,184.53 194.60,184.98 195.00,184.51 195.40,184.56 195.80,184.37 196.20,185.06 196.60,184.79 197.00,184.12 197.40,184.60 197.80,183.96 198.20,184.81 198.60,184.65 199.00,184.34 199.40,184.25 199.80,183.72 200.20,184.69 200.60,184.35 201.00,184.28 201.40,184.67 201.80,184.14 202.20,184.16 202.60,184.12 203.00,183.87 203.40,185.29 203.80,184.30 204.20,184.24 204.60,184.71 205.00,183.17 205.40,184.35 205.80,184.36 206.20,183.99 206.60,184.53 207.00,183.58 207.40,184.35 207.80,184.68 208.20,183.49 208.60,183.78 209.00,184.26 209.40,184.30 209.80,184.06 210.20,184.43 210.60,184.38 211.00,183.77 211.40,184.24 211.80,183.79 212.20,183.48 212.60,183.34 213.00,184.65 213.40,184.20 213.80,184.99 214.20,183.69 214.60,184.10 215.00,184.36 215.40,184.18 215.80,184.42 216.20,184.28 216.60,183.99 217.00,183.34 217.40,183.86 217.80,184.87 218.20,184.51 218.60,184.74 219.00,183.99 219.40,184.14 219.80,183.88 220.20,184.36 220.60,184.23 221.00,184.38 221.40,184.88 221.80,183.89 222.20,184.48 222.60,183.67 223.00,184.62 223.40,184.03 223.80,184.17 224.20,184.24 224.60,184.82 225.00,184.18 225.40,184.00 225.80,183.73 226.20,184.28 226.60,183.85 227.00,183.98 227.40,184.16 227.80,184.42 228.20,183.89 228.60,184.42 229.00,184.83 229.40,183.59 229.80,184.67 230.20,184.97 230.60,183.92 231.00,184.36 231.40,183.60 231.80,184.24 232.20,183.98 232.60,184.21 233.00,183.74 233.40,183.76 233.80,183.89 234.20,183.78 234.60,183.81 235.00,183.96 235.40,183.60 235.80,183.96 236.20,184.19 236.60,183.11 237.00,184.06 237.40,183.69 237.80,183.54 238.20,183.44 238.60,183.62 239.00,183.65 239.40,184.05 239.80,183.43 240.20,184.30 240.60,183.58 241.00,184.14 241.40,184.29 241.80,183.40 242.20,184.26 242.60,184.68 243.00,183.68 243.40,184.06 243.80,183.79 244.20,183.86 244.60,183.75 245.00,183.63 245.40,184.09 245.80,184.14 246.20,183.80 246.60,184.37 247.00,184.20 247.40,184.05 247.80,183.50 248.20,184.49 248.60,184.26 249.00,182.93 249.40,183.32 249.80,183.55 250.20,184.08 250.60,184.19 251.00,183.59 251.40,183.79 251.80,183.95 252.20,183.19 252.60,183.89 253.00,183.54 253.40,183.72 253.80,183.62 254.20,183.19 254.60,183.25 255.00,183.63 255.40,183.66 255.80,183.50 256.20,183.99 256.60,183.44 257.00,183.11 257.40,183.43 257.80,183.48 258.20,183.49 258.60,183.97 259.00,183.72 259.40,183.91 259.80,183.74 260.20,183.44 260.60,183.90 261.00,183.41 261.40,183.60 261.80,183.13 262.20,183.55 262.60,183.40 263.00,183.66 263.40,184.22 263.80,184.43 264.20,183.92 264.60,183.52 265.00,183.85 265.40,183.63 265.80,183.31 266.20,183.52 266.60,183.45 267.00,183.32 267.40,184.08 267.80,183.35 268.20,183.37 268.60,183.83 269.00,183.30 269.40,183.13 269.80,183.25 270.20,183.75 270.60,183.72 271.00,183.69 271.40,183.40 271.80,183.24 272.20,183.93 272.60,183.04 273.00,183.51 273.40,183.09 273.80,183.44 274.20,183.54 274.60,184.07 275.00,182.52 275.40,184.15 275.80,183.32 276.20,183.79 276.60,184.01 277.00,183.44 277.40,183.72 277.80,183.96 278.20,183.75 278.60,183.54 279.00,183.92 279.40,183.92 279.80,183.33 280.20,184.47 280.60,184.14 281.00,183.23 281.40,183.93 281.80,185.00 282.20,185.04 282.60,184.64 283.00,183.99 283.40,184.64 283.80,185.23 284.20,185.07 284.60,184.89 285.00,184.83 285.40,185.57 285.80,185.32 286.20,185.67 286.60,185.88 287.00,186.46 287.40,186.05 287.80,186.22 288.20,185.59 288.60,186.83 289.00,186.89 289.40,186.69 289.80,185.98 290.20,186.75 290.60,187.08 291.00,187.93 291.40,187.45 291.80,187.61 292.20,187.71 292.60,188.00 293.00,187.14 293.40,187.34 293.80,187.30 294.20,187.73 294.60,187.79 295.00,188.05 295.40,187.68 295.80,188.16 296.20,187.86 296.60,189.04 297.00,188.09 297.40,189.32 297.80,189.03 298.20,188.00 298.60,188.88 299.00,188.80 299.40,188.04 299.80,188.92 300.20,188.69 300.60,188.87 301.00,188.44 301.40,188.76 301.80,188.96 302.20,188.75 302.60,188.61 303.00,188.80 303.40,188.51 303.80,189.03 304.20,187.95 304.60,189.51 305.00,188.98 305.40,189.16 305.80,189.33 306.20,188.55 306.60,189.91 307.00,188.63 307.40,189.26 307.80,189.22 308.20,189.62 308.60,189.14 309.00,188.62 309.40,189.30 309.80,188.26 310.20,189.13 310.60,189.04 311.00,189.81 311.40,189.11 311.80,189.05 312.20,188.93 312.60,188.90 313.00,189.02 313.40,189.46 313.80,188.73 314.20,189.15 314.60,188.68 315.00,189.18 315.40,189.30 315.80,188.77 316.20,189.03 316.60,189.29 317.00,189.54 317.40,189.62 317.80,189.21 318.20,188.88 318.60,188.64 319.00,189.56 319.40,189.80 319.80,189.41 320.20,189.87 320.60,189.10 321.00,189.13 321.40,189.88 321.80,188.90 322.20,189.51 322.60,189.43 323.00,189.35 323.40,189.95 323.80,188.96 324.20,189.13 324.60,188.50 325.00,188.90 325.40,189.11 325.80,189.16 326.20,189.23 326.60,189.43 327.00,189.06 327.40,188.56 327.80,189.38 328.20,189.49 328.60,188.88 329.00,189.03 329.40,190.01 329.80,189.73 330.20,189.75 330.60,189.60 331.00,189.40 331.40,189.15 331.80,189.57 332.20,189.28 332.60,189.19 333.00,189.35 333.40,189.33 333.80,189.70 334.20,189.00 334.60,190.32 335.00,188.99 335.40,189.21 335.80,189.74 336.20,189.06 336.60,189.20 337.00,189.40 337.40,188.25 337.80,189.20 338.20,189.03 338.60,189.30 339.00,189.59" fill="none" stroke="#000" stroke-width="2.2" stroke-linejoin="bevel"/>
</g>
<rect x="56.8" y="1.8" width="282.2" height="209.6" fill="none" stroke="#2a2a2a" stroke-width="1.3"/>
<path d="M56.8,211.4v-4M56.8,1.8v4M85.0,211.4v-2M85.0,1.8v2M113.2,211.4v-4M113.2,1.8v4M141.5,211.4v-2M141.5,1.8v2M169.7,211.4v-4M169.7,1.8v4M197.9,211.4v-2M197.9,1.8v2M226.1,211.4v-4M226.1,1.8v4M254.3,211.4v-2M254.3,1.8v2M282.6,211.4v-4M282.6,1.8v4M310.8,211.4v-2M310.8,1.8v2M339.0,211.4v-4M339.0,1.8v4M56.8,189.2h4M339.0,189.2h-4M56.8,166.8h2M339.0,166.8h-2M56.8,144.4h4M339.0,144.4h-4M56.8,122.1h2M339.0,122.1h-2M56.8,99.7h4M339.0,99.7h-4M56.8,77.3h2M339.0,77.3h-2M56.8,54.9h4M339.0,54.9h-4M56.8,32.6h2M339.0,32.6h-2M56.8,10.2h4M339.0,10.2h-4" stroke="#2a2a2a" stroke-width="1.1" fill="none"/>
<text x="56.8" y="225" text-anchor="middle" style="font-family:'Liberation Sans',sans-serif;font-weight:bold;font-size:9.3px">1200</text>
<text x="113.2" y="225" text-anchor="middle" style="font-family:'Liberation Sans',sans-serif;font-weight:bold;font-size:9.3px">1300</text>
<text x="169.7" y="225" text-anchor="middle" style="font-family:'Liberation Sans',sans-serif;font-weight:bold;font-size:9.3px">1400</text>
<text x="226.1" y="225" text-anchor="middle" style="font-family:'Liberation Sans',sans-serif;font-weight:bold;font-size:9.3px">1500</text>
<text x="282.6" y="225" text-anchor="middle" style="font-family:'Liberation Sans',sans-serif;font-weight:bold;font-size:9.3px">1600</text>
<text x="339.0" y="225" text-anchor="middle" style="font-family:'Liberation Sans',sans-serif;font-weight:bold;font-size:9.3px">1700</text>
<text x="49.7" y="191.1" text-anchor="end" style="font-family:'Liberation Sans',sans-serif;font-weight:bold;font-size:9.3px">0</text>
<text x="49.7" y="146.3" text-anchor="end" style="font-family:'Liberation Sans',sans-serif;font-weight:bold;font-size:9.3px">10000</text>
<text x="49.7" y="101.6" text-anchor="end" style="font-family:'Liberation Sans',sans-serif;font-weight:bold;font-size:9.3px">20000</text>
<text x="49.7" y="56.8" text-anchor="end" style="font-family:'Liberation Sans',sans-serif;font-weight:bold;font-size:9.3px">30000</text>
<text x="49.7" y="12.1" text-anchor="end" style="font-family:'Liberation Sans',sans-serif;font-weight:bold;font-size:9.3px">40000</text>
<text x="143.4" y="241.2" textLength="108.8" lengthAdjust="spacingAndGlyphs" style="font-family:'Liberation Sans',sans-serif;font-weight:bold;font-size:13.6px">Wavelength (nm)</text>
<text transform="translate(12.8,167.6) rotate(-90)" x="0" y="0" textLength="116.9" lengthAdjust="spacingAndGlyphs" style="font-family:'Liberation Sans',sans-serif;font-weight:bold;font-size:14px">PL intensity (a.u.)</text>
<rect x="77.6" y="35.6" width="130.7" height="49.7" fill="#fff" stroke="#b4b4b4" stroke-width="1"/>
<line x1="81" y1="43.3" x2="103.2" y2="43.3" stroke="#000080" stroke-width="1.1"/>
<text x="106" y="46.6" style="font-family:'Liberation Sans',sans-serif;font-weight:bold;font-size:9.3px">Annealing: 700°C - 60s</text>
<line x1="81" y1="55.4" x2="103.2" y2="55.4" stroke="#ff0000" stroke-width="1.1"/>
<text x="106" y="58.7" style="font-family:'Liberation Sans',sans-serif;font-weight:bold;font-size:9.3px">Annealing: 600°C - 60s</text>
<line x1="81" y1="67.5" x2="103.2" y2="67.5" stroke="#008000" stroke-width="1.1"/>
<text x="106" y="70.8" style="font-family:'Liberation Sans',sans-serif;font-weight:bold;font-size:9.3px">Annealing: 800°C - 60s</text>
<line x1="81" y1="79.7" x2="103.2" y2="79.7" stroke="#000" stroke-width="1.1"/>
<text x="106" y="83.0" style="font-family:'Liberation Sans',sans-serif;font-weight:bold;font-size:9.3px">Ge epilayer</text>
</svg>
</body></html>
